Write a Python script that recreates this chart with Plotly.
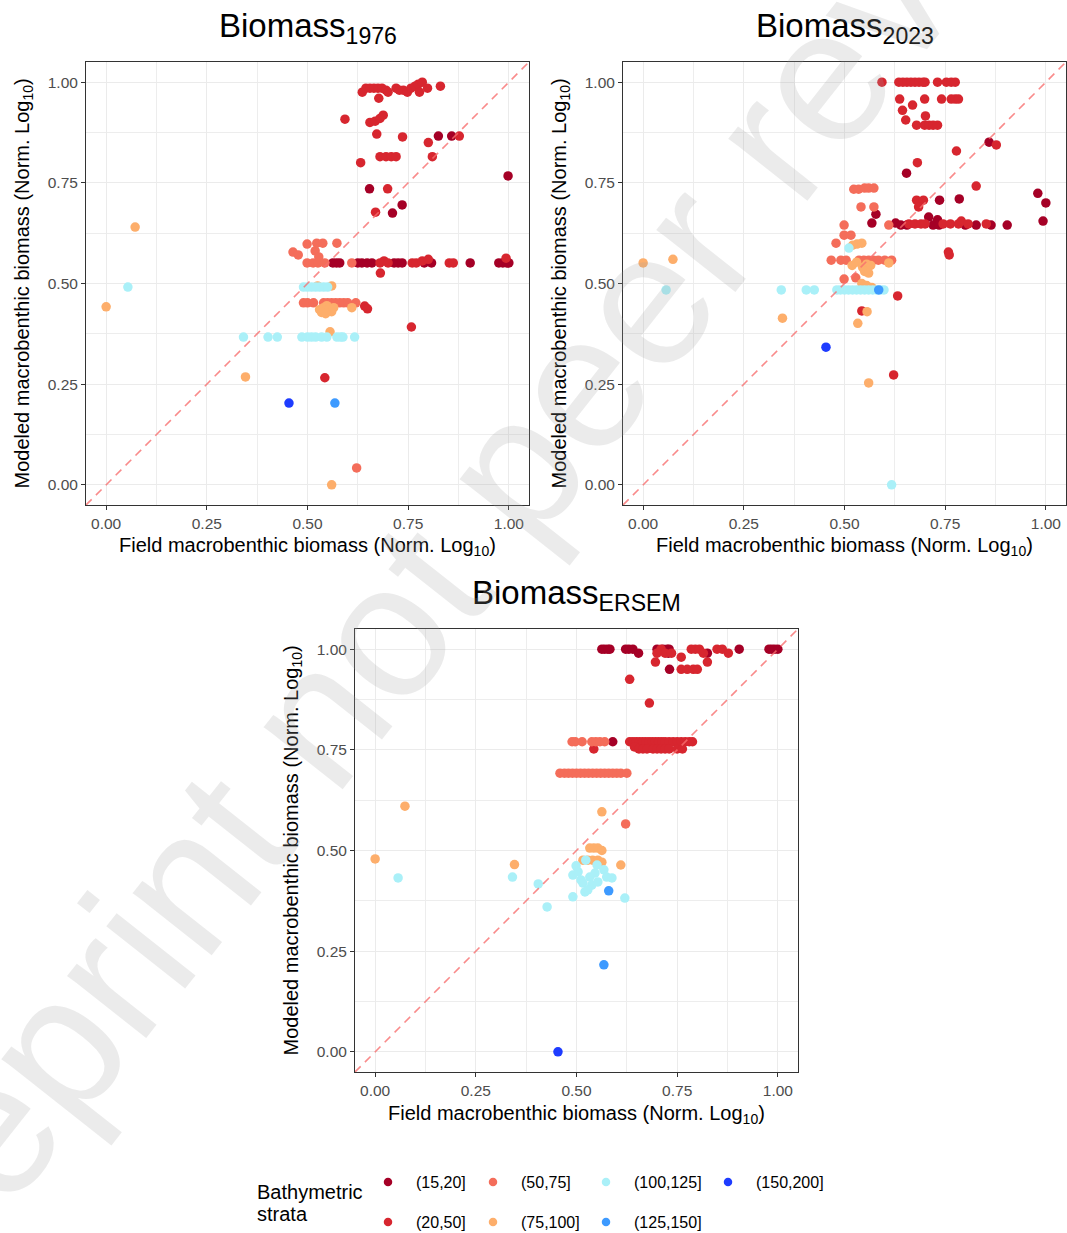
import plotly.graph_objects as go

# Bathymetric strata and their colours
STRATA = ["(15,20]", "(20,50]", "(50,75]", "(75,100]", "(100,125]", "(125,150]", "(150,200]"]
COLORS = ["#A50026", "#D7262F", "#F46D5A", "#FDAE6B", "#AAF0F8", "#3D9AFF", "#1E3CFF"]

# Normalised log10 biomass, one sub-list per stratum (same order as STRATA)
field_1976 = [
    [0.825, 0.858, 0.998, 0.654, 0.735, 0.711, 0.563, 0.572, 0.58, 0.625, 0.635, 0.648, 0.66,
     0.715, 0.725, 0.735, 0.79, 0.808, 0.904, 0.975, 0.985, 0.995, 1.0],
    [0.636, 0.645, 0.655, 0.665, 0.675, 0.685, 0.695, 0.70, 0.72, 0.728, 0.738, 0.748, 0.757,
     0.767, 0.775, 0.785, 0.778, 0.798, 0.83,
     0.677, 0.593, 0.655, 0.668, 0.68, 0.688, 0.672, 0.736, 0.80, 0.877, 0.632, 0.68, 0.695,
     0.708, 0.72, 0.81, 0.699, 0.669, 0.681,
     0.68, 0.69, 0.70, 0.76, 0.77, 0.785, 0.80, 0.852, 0.862, 0.993,
     0.642, 0.649, 0.543, 0.758],
    [0.464, 0.477, 0.499, 0.519, 0.523, 0.538, 0.528, 0.573,
     0.499, 0.514, 0.526, 0.543, 0.61,
     0.49, 0.50, 0.515, 0.54, 0.55, 0.56, 0.57, 0.58, 0.59, 0.60, 0.62,
     0.622],
    [0.0, 0.072, 0.56, 0.525, 0.53, 0.535, 0.54, 0.548, 0.555, 0.56, 0.545, 0.565, 0.61, 0.556,
     0.346, 0.56],
    [0.054, 0.49, 0.50, 0.51, 0.52, 0.53, 0.54, 0.55,
     0.341, 0.402, 0.425, 0.486, 0.50, 0.51, 0.52, 0.535, 0.548, 0.573, 0.582, 0.588, 0.617],
    [0.568],
    [0.454],
]
modeled_1976 = [
    [0.866, 0.866, 0.767, 0.735, 0.695, 0.675, 0.551, 0.551, 0.551, 0.551, 0.551, 0.551, 0.551,
     0.551, 0.551, 0.551, 0.551, 0.551, 0.551, 0.551, 0.551, 0.551, 0.551],
    [0.975, 0.985, 0.985, 0.985, 0.985, 0.985, 0.98, 0.975, 0.985, 0.98, 0.98, 0.975, 0.985,
     0.99, 0.995, 1.0, 0.975, 0.985, 0.99,
     0.96, 0.908, 0.90, 0.903, 0.91, 0.918, 0.871, 0.864, 0.85, 0.866, 0.80, 0.815, 0.815,
     0.815, 0.815, 0.815, 0.735, 0.677, 0.526,
     0.551, 0.556, 0.551, 0.551, 0.551, 0.556, 0.56, 0.551, 0.551, 0.563,
     0.444, 0.437, 0.266, 0.392],
    [0.578, 0.571, 0.598, 0.581, 0.60, 0.60, 0.566, 0.60,
     0.551, 0.551, 0.551, 0.551, 0.551,
     0.452, 0.452, 0.452, 0.452, 0.452, 0.452, 0.452, 0.452, 0.452, 0.452, 0.452,
     0.042],
    [0.442, 0.64, 0.494, 0.494, 0.435, 0.428, 0.44, 0.445, 0.438, 0.43, 0.425, 0.44, 0.44, 0.38,
     0.268, 0.0],
    [0.491, 0.491, 0.491, 0.491, 0.491, 0.491, 0.491, 0.491,
     0.367, 0.367, 0.367, 0.367, 0.367, 0.367, 0.367, 0.367, 0.367, 0.367, 0.367, 0.367, 0.367],
    [0.203],
    [0.203],
]

field_2023 = [
    [0.859, 0.654, 0.98, 1.0, 0.993, 0.736, 0.785, 0.709, 0.731, 0.578, 0.568, 0.627, 0.64,
     0.655, 0.72, 0.735, 0.80, 0.827, 0.864, 0.904],
    [0.593, 0.635, 0.645, 0.655, 0.665, 0.675, 0.685, 0.695, 0.70, 0.731, 0.753, 0.765, 0.775,
     0.637, 0.699, 0.741, 0.765, 0.775, 0.783,
     0.644, 0.669, 0.652, 0.701,
     0.679, 0.699, 0.71, 0.72, 0.731,
     0.778, 0.877, 0.681, 0.827, 0.679, 0.696, 0.684,
     0.66, 0.675, 0.69, 0.70, 0.745, 0.763, 0.783, 0.79, 0.807, 0.852,
     0.758, 0.76, 0.632, 0.543, 0.622],
    [0.523, 0.535, 0.55, 0.56, 0.573,
     0.541, 0.573, 0.61, 0.499, 0.499, 0.516, 0.479,
     0.467, 0.491, 0.504, 0.536, 0.548, 0.56, 0.572, 0.584, 0.60, 0.617,
     0.499, 0.528],
    [0.531, 0.543, 0.52, 0.519, 0.53, 0.545, 0.555, 0.565, 0.55, 0.56, 0.61, 0.543, 0.555,
     0.568, 0.0, 0.074, 0.556, 0.346, 0.533, 0.56],
    [0.511, 0.057, 0.343, 0.405, 0.425,
     0.481, 0.49, 0.50, 0.51, 0.52, 0.53, 0.54, 0.55, 0.56, 0.57, 0.58, 0.59, 0.598,
     0.617],
    [0.585],
    [0.454],
]
modeled_2023 = [
    [0.851, 0.774, 0.724, 0.70, 0.655, 0.707, 0.71, 0.665, 0.658, 0.672, 0.65, 0.65, 0.645,
     0.645, 0.645, 0.645, 0.645, 0.645, 0.645, 0.645],
    [1.0, 1.0, 1.0, 1.0, 1.0, 1.0, 1.0, 1.0, 1.0, 1.0, 1.0, 1.0, 1.0,
     0.958, 0.958, 0.958, 0.958, 0.958, 0.958,
     0.93, 0.943, 0.906, 0.916,
     0.893, 0.893, 0.893, 0.893, 0.893,
     0.829, 0.844, 0.80, 0.742, 0.707, 0.707, 0.69,
     0.648, 0.648, 0.648, 0.648, 0.648, 0.648, 0.648, 0.655, 0.648, 0.648,
     0.578, 0.571, 0.469, 0.432, 0.273],
    [0.734, 0.734, 0.737, 0.737, 0.737,
     0.69, 0.69, 0.645, 0.645, 0.62, 0.62, 0.60,
     0.558, 0.558, 0.558, 0.558, 0.558, 0.558, 0.558, 0.558, 0.558, 0.558,
     0.511, 0.514],
    [0.598, 0.60, 0.595, 0.545, 0.553, 0.54, 0.548, 0.545, 0.53, 0.526, 0.551, 0.50, 0.495,
     0.49, 0.551, 0.56, 0.43, 0.414, 0.401, 0.253],
    [0.588, 0.484, 0.484, 0.484, 0.484,
     0.484, 0.484, 0.484, 0.484, 0.484, 0.484, 0.484, 0.484, 0.484, 0.484, 0.484, 0.484, 0.484,
     0.0],
    [0.484],
    [0.342],
]

field_ersem = [
    [0.563, 0.57, 0.578, 0.583, 0.622, 0.63, 0.64, 0.70, 0.715, 0.725, 0.73, 0.904, 0.978,
     0.985, 0.992, 1.0,
     0.654, 0.825, 0.728, 0.731, 0.59],
    [0.71, 0.72, 0.785, 0.795, 0.805, 0.849, 0.862, 0.70, 0.736, 0.815, 0.877, 0.76, 0.696,
     0.825, 0.76, 0.775, 0.79, 0.80, 0.632, 0.681,
     0.632, 0.64, 0.648, 0.656, 0.664, 0.672, 0.68, 0.688, 0.696, 0.704, 0.712, 0.72, 0.73,
     0.74, 0.75, 0.76, 0.77, 0.78, 0.788,
     0.543, 0.644, 0.655, 0.665, 0.675, 0.69, 0.70, 0.71, 0.72, 0.73, 0.75, 0.763],
    [0.489, 0.497, 0.514, 0.538, 0.548, 0.558, 0.57,
     0.459, 0.47, 0.48, 0.49, 0.50, 0.51, 0.52, 0.53, 0.54, 0.55, 0.56, 0.57, 0.58, 0.59,
     0.60, 0.61, 0.625,
     0.622],
    [0.074, 0.0, 0.346, 0.563, 0.533, 0.543, 0.553, 0.563, 0.516, 0.528, 0.54, 0.553, 0.563,
     0.61],
    [0.057, 0.341, 0.405, 0.427,
     0.491, 0.504, 0.511, 0.516, 0.521, 0.533, 0.538, 0.546, 0.553, 0.551, 0.568, 0.575,
     0.588, 0.528, 0.499, 0.523, 0.491, 0.620],
    [0.58, 0.568],
    [0.454],
]
modeled_ersem = [
    [1.0, 1.0, 1.0, 1.0, 1.0, 1.0, 1.0, 1.0, 1.0, 1.0, 1.0, 1.0, 1.0, 1.0, 1.0, 1.0,
     0.99, 0.99, 0.99, 0.95, 0.77],
    [1.0, 0.99, 1.0, 1.0, 1.0, 1.0, 1.0, 0.99, 0.99, 0.99, 0.99, 0.98, 0.968, 0.968, 0.95,
     0.95, 0.95, 0.95, 0.925, 0.866,
     0.77, 0.77, 0.77, 0.77, 0.77, 0.77, 0.77, 0.77, 0.77, 0.77, 0.77, 0.77, 0.77, 0.77,
     0.77, 0.77, 0.77, 0.77, 0.77,
     0.752, 0.757, 0.752, 0.752, 0.752, 0.752, 0.752, 0.752, 0.752, 0.752, 0.752, 0.752],
    [0.77, 0.77, 0.77, 0.77, 0.77, 0.77, 0.77,
     0.692, 0.692, 0.692, 0.692, 0.692, 0.692, 0.692, 0.692, 0.692, 0.692, 0.692, 0.692,
     0.692, 0.692, 0.692, 0.692, 0.692,
     0.566],
    [0.61, 0.479, 0.465, 0.596, 0.506, 0.506, 0.506, 0.50, 0.476, 0.476, 0.476, 0.476, 0.471,
     0.464],
    [0.432, 0.434, 0.417, 0.360,
     0.439, 0.447, 0.427, 0.419, 0.397, 0.434, 0.414, 0.444, 0.422, 0.464, 0.452, 0.434,
     0.432, 0.402, 0.462, 0.476, 0.385, 0.382],
    [0.40, 0.216],
    [0.0],
]

TICKS = [0.0, 0.25, 0.5, 0.75, 1.0]
TICK_LABELS = ["0.00", "0.25", "0.50", "0.75", "1.00"]

W, H = 1067, 1233
FONT = "Liberation Sans, Arial, sans-serif"

# panel placement in pixels: (left, right, top, bottom)
panels = [
    ("Biomass<sub>1976</sub>", field_1976, modeled_1976, (86, 529, 62, 505)),
    ("Biomass<sub>2023</sub>", field_2023, modeled_2023, (623, 1066, 62, 505)),
    ("Biomass<sub>ERSEM</sub>", field_ersem, modeled_ersem, (355, 798, 629, 1072)),
]

fig = go.Figure()
annotations = []
shapes = []

axis_common = dict(
    range=[-0.05, 1.05], tickvals=TICKS, ticktext=TICK_LABELS,
    showgrid=True, gridcolor="#EBEBEB", gridwidth=1.4,
    minor=dict(dtick=0.125, tick0=0, showgrid=True, gridcolor="#EDEDED", gridwidth=1),
    showline=True, mirror=True, linecolor="#333333", linewidth=1,
    ticks="outside", ticklen=4, tickwidth=1, tickcolor="#333333",
    tickfont=dict(family=FONT, size=15.5, color="#4D4D4D"),
    zeroline=False, fixedrange=True,
)

for i, (title, fx, my, (l, r, t, b)) in enumerate(panels):
    n = "" if i == 0 else str(i + 1)
    xa, ya = "x" + n, "y" + n
    fig.update_layout({
        "xaxis" + n: dict(domain=[l / W, r / W], anchor=ya, **axis_common),
        "yaxis" + n: dict(domain=[1 - b / H, 1 - t / H], anchor=xa, **axis_common),
    })
    for k, name in enumerate(STRATA):
        xs = fx[k]
        ys = my[k]
        assert len(xs) == len(ys), (title, name)
        fig.add_trace(go.Scatter(
            x=xs, y=ys, mode="markers", name=name, xaxis=xa, yaxis=ya,
            marker=dict(color=COLORS[k], size=9.5, line=dict(width=0)),
            showlegend=False, hoverinfo="skip",
        ))
    # 1:1 reference line
    shapes.append(dict(
        type="line", xref=xa, yref=ya, x0=-0.05, y0=-0.05, x1=1.05, y1=1.05,
        line=dict(color="rgba(248,110,110,0.8)", width=1.6, dash="8px,6px"),
        layer="above",
    ))
    cx = (l + r) / 2 / W
    annotations.append(dict(
        text=title, x=cx, y=1 - (t - 34) / H, xref="paper", yref="paper",
        xanchor="center", yanchor="middle", showarrow=False,
        font=dict(family=FONT, size=33, color="black"),
    ))
    annotations.append(dict(
        text="Field macrobenthic biomass (Norm. Log<sub>10</sub>)",
        x=cx, y=1 - (b + 42) / H, xref="paper", yref="paper",
        xanchor="center", yanchor="middle", showarrow=False,
        font=dict(family=FONT, size=20, color="black"),
    ))
    annotations.append(dict(
        text="Modeled macrobenthic biomass (Norm. Log<sub>10</sub>)",
        x=(l - 63) / W, y=1 - (t + b) / 2 / H, xref="paper", yref="paper",
        xanchor="center", yanchor="middle", showarrow=False, textangle=-90,
        font=dict(family=FONT, size=20, color="black"),
    ))

# legend drawn on its own hidden axis, laid out in two rows
legend_cols = [388, 493, 606, 728]
legend_rows = [1182, 1222]
fig.update_layout(
    xaxis4=dict(domain=[0, 1], range=[0, W], visible=False, fixedrange=True),
    yaxis4=dict(domain=[0, 124 / H], range=[H, H - 124], visible=False, fixedrange=True,
                anchor="x4"),
)
for k, name in enumerate(STRATA):
    col = k // 2
    row = k % 2
    fig.add_trace(go.Scatter(
        x=[legend_cols[col]], y=[legend_rows[row]], mode="markers", xaxis="x4", yaxis="y4",
        marker=dict(color=COLORS[k], size=8.5, line=dict(width=0)),
        showlegend=False, hoverinfo="skip",
    ))
    annotations.append(dict(
        text=name, x=(legend_cols[col] + 26) / W, y=1 - legend_rows[row] / H,
        xref="paper", yref="paper", xanchor="left", yanchor="middle", showarrow=False,
        font=dict(family=FONT, size=16, color="black"),
    ))
# legend title, two tightly spaced lines
for line_text, line_y in (("Bathymetric", 1192), ("strata", 1214)):
    annotations.append(dict(
        text=line_text, x=255 / W, y=1 - line_y / H, xref="paper", yref="paper",
        xanchor="left", yanchor="middle", showarrow=False,
        font=dict(family=FONT, size=20, color="black"),
    ))

# preprint watermark
annotations.append(dict(
    text="Preprint not peer reviewed", x=528 / W, y=1 - 448 / H, xref="paper", yref="paper",
    xanchor="center", yanchor="middle", showarrow=False, textangle=-51.7,
    font=dict(family=FONT, size=190, color="rgba(160,160,160,0.21)"),
))

fig.update_layout(
    width=W, height=H, margin=dict(l=0, r=0, t=0, b=0),
    paper_bgcolor="white", plot_bgcolor="white",
    showlegend=False, annotations=annotations, shapes=shapes,
    font=dict(family=FONT),
)

fig.write_html("out.html", config={"displayModeBar": False})
